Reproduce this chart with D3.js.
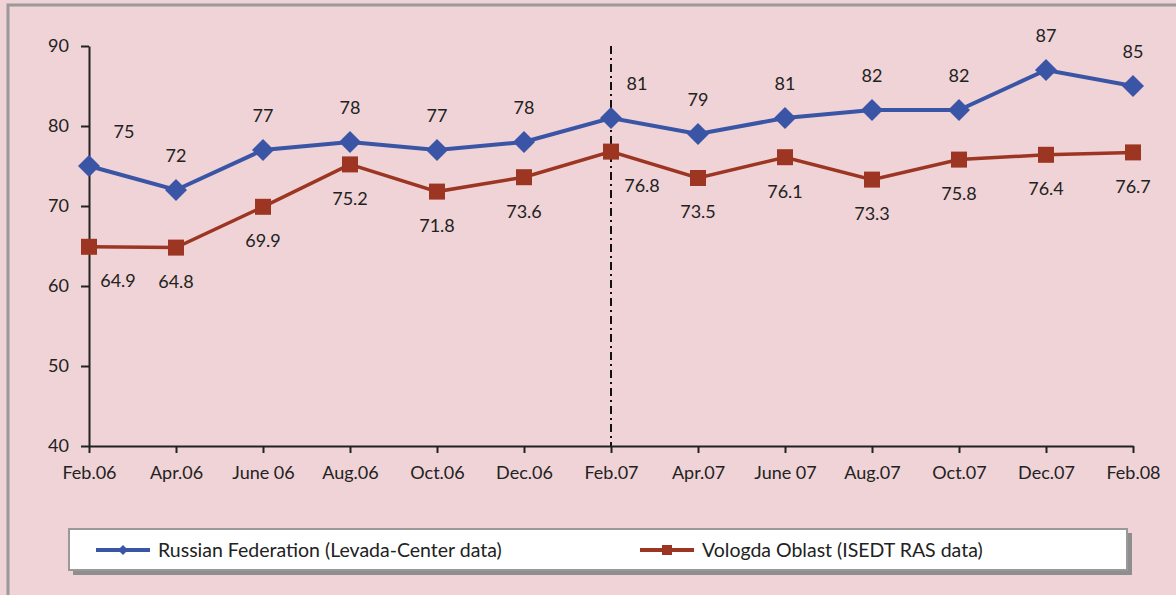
<!DOCTYPE html>
<html>
<head>
<meta charset="utf-8">
<script src="https://cdn.jsdelivr.net/npm/d3@7"></script>
<style>
  html, body { margin: 0; padding: 0; background: #efd3d6; }
  svg { display: block; }
  text { font-family: Lato, "Open Sans", sans-serif; fill: #222; }
</style>
</head>
<body>
<div id="root"></div>
<script>
// Survey months on the x axis
const months = ["Feb.06", "Apr.06", "June 06", "Aug.06", "Oct.06", "Dec.06", "Feb.07",
  "Apr.07", "June 07", "Aug.07", "Oct.07", "Dec.07", "Feb.08"];
// Russian Federation (Levada-Center data)
const russia = [75, 72, 77, 78, 77, 78, 81, 79, 81, 82, 82, 87, 85];
// Vologda Oblast (ISEDT RAS data)
const vologda = [64.9, 64.8, 69.9, 75.2, 71.8, 73.6, 76.8, 73.5, 76.1, 73.3, 75.8, 76.4, 76.7];
const yTicks = [40, 50, 60, 70, 80, 90];
const dividerMonth = "Feb.07";

const width = 1176, height = 595;
const blue = "#3a55a6", red = "#9c3623";
const fontSize = 18;
const font = "Lato, 'Open Sans', sans-serif";

const x = d3.scalePoint().domain(months).range([89, 1133]);
const y = d3.scaleLinear().domain([40, 90]).range([446, 46]);

const svg = d3.select("#root").append("svg")
  .attr("width", width)
  .attr("height", height);

svg.append("rect")
  .attr("width", width).attr("height", height)
  .attr("fill", "#efd3d6");

// outer frame (only top and left edges visible in the crop)
svg.append("path")
  .attr("d", "M8,600 V5 H1180")
  .attr("fill", "none")
  .attr("stroke", "#9a9a9a")
  .attr("stroke-width", 3);

// axes
svg.append("g")
  .attr("transform", "translate(89,0)")
  .call(d3.axisLeft(y).tickValues(yTicks).tickSize(8).tickSizeOuter(0))
  .call(g => g.attr("font-size", fontSize).attr("font-family", font))
  .call(g => g.select(".domain").attr("stroke", "#222").attr("stroke-width", 2))
  .call(g => g.selectAll(".tick line").attr("stroke", "#222").attr("stroke-width", 2))
  .call(g => g.selectAll(".tick text").attr("x", -20).attr("fill", "#222"));

svg.append("g")
  .attr("transform", "translate(0,446)")
  .call(d3.axisBottom(x).tickSize(7).tickSizeOuter(0))
  .call(g => g.attr("font-size", fontSize).attr("font-family", font))
  .call(g => g.select(".domain").attr("stroke", "#222").attr("stroke-width", 2))
  .call(g => g.selectAll(".tick line").attr("stroke", "#222").attr("stroke-width", 2))
  .call(g => g.selectAll(".tick text").attr("y", 20).attr("fill", "#222"));

// dash-dot divider at Feb.07
svg.append("line")
  .attr("x1", x(dividerMonth)).attr("x2", x(dividerMonth))
  .attr("y1", y(90)).attr("y2", y(40))
  .attr("stroke", "#111")
  .attr("stroke-width", 2)
  .attr("stroke-dasharray", "8,4,2,4");

const line = d3.line().x((d, i) => x(months[i])).y(d => y(d));

// Vologda series
svg.append("path")
  .datum(vologda)
  .attr("d", line)
  .attr("fill", "none")
  .attr("stroke", red)
  .attr("stroke-width", 3.5);

svg.append("g").selectAll("rect")
  .data(vologda)
  .join("rect")
  .attr("x", (d, i) => x(months[i]) - 8)
  .attr("y", d => y(d) - 8)
  .attr("width", 16).attr("height", 16)
  .attr("fill", red);

// Russia series
svg.append("path")
  .datum(russia)
  .attr("d", line)
  .attr("fill", "none")
  .attr("stroke", blue)
  .attr("stroke-width", 4);

svg.append("g").selectAll("path")
  .data(russia)
  .join("path")
  .attr("transform", (d, i) => `translate(${x(months[i])},${y(d)})`)
  .attr("d", "M0,-11 L11,0 L0,11 L-11,0 Z")
  .attr("fill", blue);

// labels shift right where they would hit the axis or divider
const shift = m => (m === months[0] ? 35 : m === dividerMonth ? 26 : 0);

svg.append("g").selectAll("text")
  .data(russia)
  .join("text")
  .attr("x", (d, i) => x(months[i]) + shift(months[i]))
  .attr("y", d => y(d) - 34)
  .attr("dy", "0.35em")
  .attr("text-anchor", "middle")
  .attr("font-size", fontSize)
  .text(d => d);

svg.append("g").selectAll("text")
  .data(vologda)
  .join("text")
  .attr("x", (d, i) => x(months[i]) + (months[i] === months[0] ? 29 : months[i] === dividerMonth ? 31 : 0))
  .attr("y", d => y(d) + 34)
  .attr("dy", "0.35em")
  .attr("text-anchor", "middle")
  .attr("font-size", fontSize)
  .text(d => d.toFixed(1));

// legend box with shadow
const legend = svg.append("g");
legend.append("rect")
  .attr("x", 73).attr("y", 533).attr("width", 1059).attr("height", 42)
  .attr("fill", "#8e8e8e");
legend.append("rect")
  .attr("x", 69).attr("y", 529).attr("width", 1058).attr("height", 41)
  .attr("fill", "#fff")
  .attr("stroke", "#999")
  .attr("stroke-width", 2);

const legendItems = [
  { name: "Russian Federation (Levada-Center data)", color: blue, shape: "diamond", x0: 96 },
  { name: "Vologda Oblast (ISEDT RAS data)", color: red, shape: "square", x0: 640 }
];
legendItems.forEach(item => {
  legend.append("line")
    .attr("x1", item.x0).attr("x2", item.x0 + 54)
    .attr("y1", 550).attr("y2", 550)
    .attr("stroke", item.color).attr("stroke-width", 4);
  if (item.shape === "diamond") {
    legend.append("path")
      .attr("transform", `translate(${item.x0 + 27},550)`)
      .attr("d", "M0,-5 L5,0 L0,5 L-5,0 Z")
      .attr("fill", item.color);
  } else {
    legend.append("rect")
      .attr("x", item.x0 + 22).attr("y", 545).attr("width", 10).attr("height", 10)
      .attr("fill", item.color);
  }
  legend.append("text")
    .attr("x", item.x0 + 62).attr("y", 550)
    .attr("dy", "0.35em")
    .attr("font-size", 19.5)
    .text(item.name);
});
</script>
</body>
</html>
